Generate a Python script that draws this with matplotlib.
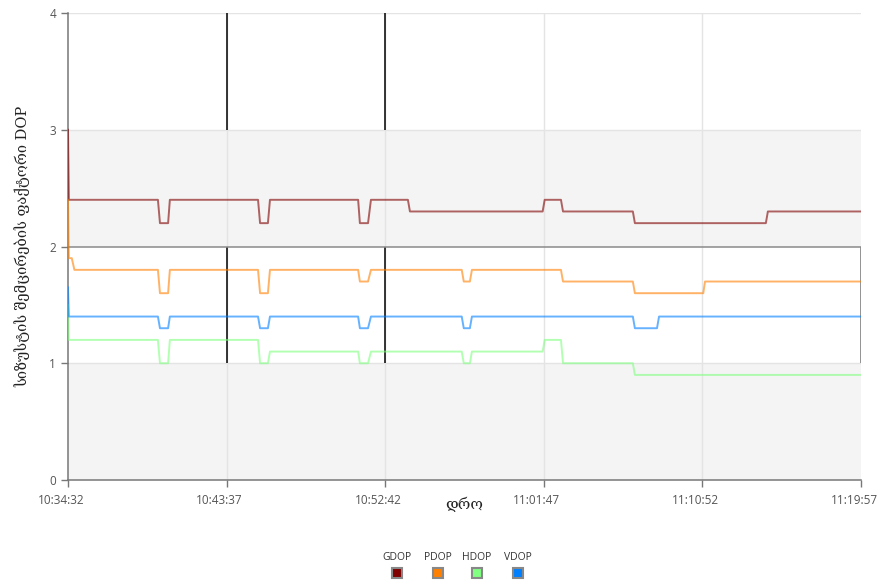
import numpy as np
import pandas as pd
import matplotlib
matplotlib.use("Agg")
import matplotlib.pyplot as plt
import matplotlib.transforms as mtransforms
from matplotlib.patches import Rectangle

plt.rcParams['font.family'] = ['Open Sans', 'DejaVu Sans']

# --- data (time, value) ---
gdop_t = ['10:34:32', '10:34:35', '10:39:41', '10:39:48', '10:40:16', '10:40:22',
          '10:45:25', '10:45:32', '10:45:59', '10:46:06', '10:51:09', '10:51:15',
          '10:51:43', '10:51:53', '10:54:00', '10:54:07', '11:01:43', '11:01:50',
          '11:02:46', '11:02:53', '11:06:53', '11:07:00', '11:14:30', '11:14:37',
          '11:19:57']
gdop_v = [3.0, 2.4, 2.4, 2.2, 2.2, 2.4,
          2.4, 2.2, 2.2, 2.4, 2.4, 2.2,
          2.2, 2.4, 2.4, 2.3, 2.3, 2.4,
          2.4, 2.3, 2.3, 2.2, 2.2, 2.3,
          2.3]

pdop_t = ['10:34:32', '10:34:35', '10:34:45', '10:34:54', '10:39:41', '10:39:48',
          '10:40:16', '10:40:22', '10:45:25', '10:45:32', '10:45:59', '10:46:06',
          '10:51:09', '10:51:15', '10:51:43', '10:51:53', '10:57:05', '10:57:12',
          '10:57:33', '10:57:40', '11:02:46', '11:02:53', '11:06:53', '11:07:00',
          '11:10:55', '11:11:01', '11:19:57']
pdop_v = [2.4, 1.9, 1.9, 1.8, 1.8, 1.6,
          1.6, 1.8, 1.8, 1.6, 1.6, 1.8,
          1.8, 1.7, 1.7, 1.8, 1.8, 1.7,
          1.7, 1.8, 1.8, 1.7, 1.7, 1.6,
          1.6, 1.7, 1.7]

hdop_t = ['10:34:32', '10:34:35', '10:39:41', '10:39:48', '10:40:16', '10:40:22',
          '10:45:25', '10:45:32', '10:45:59', '10:46:06', '10:51:09', '10:51:15',
          '10:51:43', '10:51:53', '10:57:05', '10:57:12', '10:57:33', '10:57:40',
          '11:01:43', '11:01:50', '11:02:46', '11:02:53', '11:06:53', '11:07:00',
          '11:19:57']
hdop_v = [1.5, 1.2, 1.2, 1.0, 1.0, 1.2,
          1.2, 1.0, 1.0, 1.1, 1.1, 1.0,
          1.0, 1.1, 1.1, 1.0, 1.0, 1.1,
          1.1, 1.2, 1.2, 1.0, 1.0, 0.9,
          0.9]

vdop_t = ['10:34:32', '10:34:35', '10:39:41', '10:39:48', '10:40:16', '10:40:22',
          '10:45:25', '10:45:32', '10:45:59', '10:46:06', '10:51:09', '10:51:15',
          '10:51:43', '10:51:53', '10:57:05', '10:57:12', '10:57:33', '10:57:40',
          '11:06:53', '11:07:00', '11:08:16', '11:08:23', '11:19:57']
vdop_v = [1.65, 1.4, 1.4, 1.3, 1.3, 1.4,
          1.4, 1.3, 1.3, 1.4, 1.4, 1.3,
          1.3, 1.4, 1.4, 1.3, 1.3, 1.4,
          1.4, 1.3, 1.3, 1.4, 1.4]

tick_labels = ['10:34:32', '10:43:37', '10:52:42', '11:01:47', '11:10:52', '11:19:57']
series_names = ['GDOP', 'PDOP', 'HDOP', 'VDOP']
series_colors = ['#800000', '#ff8000', '#80ff80', '#0080ff']

start = pd.to_timedelta(tick_labels[0])


def secs(times):
    return (pd.to_timedelta(times) - start).total_seconds().values


fig = plt.figure(figsize=(8.81, 5.83), dpi=100)
ax = fig.add_axes([68 / 881, 1 - 480 / 583, 793 / 881, 467 / 583])

xt = secs(tick_labels)
x0, x1 = xt[0], xt[-1]
ax.set_xlim(x0, x1)
ax.set_ylim(0, 4)

# alternating bands
ax.axhspan(0, 1, color='#f4f4f4', zorder=0, lw=0)
ax.axhspan(2, 3, color='#f4f4f4', zorder=0, lw=0)

# grid
for x in xt[1:-1]:
    ax.axvline(x, color='#e4e4e4', lw=1, zorder=1)
for x in xt[1:3]:
    ax.vlines(x, 1, 2, color='black', lw=1.1, zorder=1.5)
    ax.vlines(x, 3, 4, color='black', lw=1.1, zorder=1.5)
for y in [1, 3, 4]:
    ax.axhline(y, color='#e4e4e4', lw=1, zorder=1)
ax.axhline(2, color='#8a8a8a', lw=1.1, zorder=1.5)
ax.vlines(x1, 1, 2, color='#8a8a8a', lw=1.3, zorder=1.5)

all_t = [gdop_t, pdop_t, hdop_t, vdop_t]
all_v = [gdop_v, pdop_v, hdop_v, vdop_v]
for t, v, c in zip(all_t, all_v, series_colors):
    ax.plot(secs(t), v, color=c, lw=1.4, alpha=0.6, zorder=3, solid_joinstyle='round')

for s in ['top', 'right']:
    ax.spines[s].set_visible(False)
for s in ['left', 'bottom']:
    ax.spines[s].set_color('#777777')
    ax.spines[s].set_linewidth(1.1)

ax.set_xticks(xt)
ax.set_xticklabels(tick_labels)
ax.set_yticks([0, 1, 2, 3, 4])
ax.tick_params(axis='both', colors='#777777', length=5, width=1, labelsize=8.5,
               labelcolor='#555555')
ax.tick_params(axis='x', pad=5)
shift = mtransforms.ScaledTranslation(-7 / 100, 0, fig.dpi_scale_trans)
for lbl in ax.get_xticklabels():
    lbl.set_transform(lbl.get_transform() + shift)

ax.set_ylabel('სიზუსტის შემცირების ფაქტორი DOP', fontsize=10.5,
              family=['DejaVu Serif', 'DejaVu Sans'], color='#222222', labelpad=14)
fig.text(464 / 881, 1 - 504 / 583, 'დრო', fontsize=11, ha='center', va='center',
         family=['DejaVu Serif', 'DejaVu Sans'], color='#222222')

# legend: labels above small squares
leg_x = [397, 438, 477, 518]
for name, c, lx in zip(series_names, series_colors, leg_x):
    fig.text(lx / 881, 1 - 557 / 583, name, fontsize=7.5, ha='center', va='center',
             color='#333333')
    fig.patches.append(Rectangle(((lx - 5) / 881, 1 - 578 / 583), 10 / 881, 10 / 583,
                                 transform=fig.transFigure, facecolor=c,
                                 edgecolor='#888888', lw=1.5))

fig.savefig('out.png', dpi=100)
